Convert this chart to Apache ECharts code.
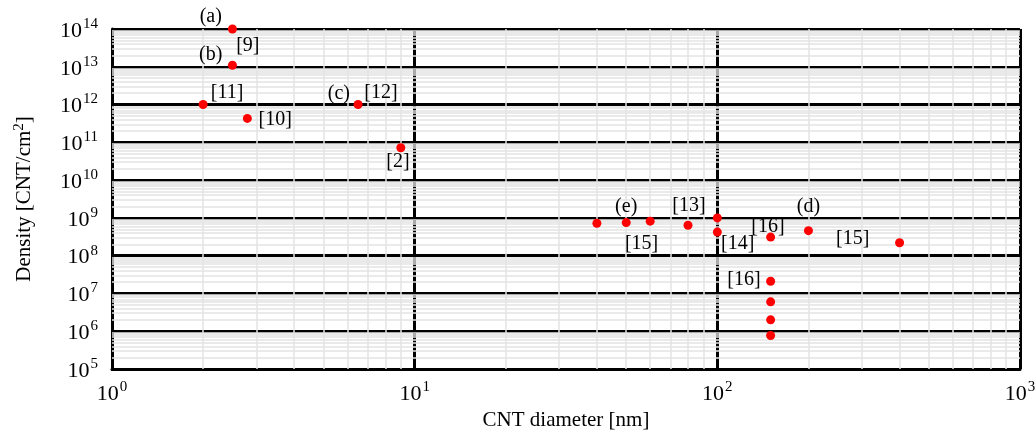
<!DOCTYPE html>
<html>
<head>
<meta charset="utf-8">
<title>CNT density vs diameter</title>
<style>
    html, body { margin: 0; padding: 0; background: #fff; }
    #chart { width: 1035px; height: 432px; }
</style>
</head>
<body>
<div id="chart"></div>
<script src="https://cdn.jsdelivr.net/npm/echarts@6/dist/echarts.min.js"></script>
<script type="text/javascript">
    // measured points: CNT diameter [nm] and density [CNT/cm2]
    var diameter = [2.5, 2.5, 2, 2.8, 6.5, 9, 40, 50, 60, 80, 100, 100, 150, 200, 400, 150, 150, 150, 150];
    var density = [1e14, 1.1e13, 1e12, 4.3e11, 1e12, 7.2e10, 7.2e8, 7.5e8, 8.2e8, 6.4e8, 1e9, 4.2e8, 3.1e8, 4.6e8, 2.2e8, 2.1e7, 6.0e6, 2.0e6, 7.7e5];

    // reference / case labels, anchored in data space
    var noteText = ['(a)', '[9]', '(b)', '[11]', '[10]', '(c)', '[12]', '[2]', '(e)', '[13]', '[15]', '[14]', '[16]', '(d)', '[15]', '[16]'];
    var noteX = [2.12, 2.81, 2.12, 2.40, 3.46, 5.62, 7.74, 8.81, 50, 80.6, 56.2, 116.7, 147, 200, 280, 122.5];
    var noteY = [2.07e14, 3.55e13, 2.05e13, 2.03e12, 3.9e11, 1.9e12, 2.0e12, 3.0e10, 2.0e9, 2.1e9, 2.1e8, 2.1e8, 5.9e8, 2.0e9, 2.8e8, 2.3e7];

    // axis ranges (decades)
    var xDecades = [1, 10, 100, 1000];
    var yDecades = [1e5, 1e6, 1e7, 1e8, 1e9, 1e10, 1e11, 1e12, 1e13, 1e14];

    var font = '"Liberation Serif", "Times New Roman", serif';

    // light minor grid at 2..9 of every decade
    var minorLines = [];
    xDecades.slice(0, -1).forEach(function (d) {
        for (var k = 2; k <= 9; k++) minorLines.push({xAxis: k * d});
    });
    yDecades.slice(0, -1).forEach(function (d) {
        for (var k = 2; k <= 9; k++) minorLines.push({yAxis: k * d});
    });

    var points = diameter.map(function (d, i) { return [d, density[i]]; });
    var notes = noteText.map(function (t, i) { return {name: t, value: [noteX[i], noteY[i]]}; });

    function powLabel(v) {
        return '{b|10}{s|' + Math.round(Math.log10(v)) + '}';
    }
    var powRich = {
        b: {fontSize: 22, fontFamily: font, color: '#000', lineHeight: 25, padding: [4, 0, 0, 0]},
        s: {fontSize: 15, fontFamily: font, color: '#000', verticalAlign: 'top', lineHeight: 15, padding: [0, 0, 0, 1]}
    };

    var myChart = echarts.init(document.getElementById('chart'), null, {renderer: 'canvas'});
    var option = {
        animation: false,
        grid: {left: 112, right: 15, top: 29, bottom: 63, containLabel: false, outerBoundsMode: 'none'},
        xAxis: {
            type: 'log',
            logBase: 10,
            min: 1,
            max: 1000,
            splitNumber: 3,
            name: 'CNT diameter [nm]',
            nameLocation: 'middle',
            nameGap: 40,
            nameTextStyle: {fontSize: 21, fontFamily: font, color: '#000'},
            axisLine: {lineStyle: {color: '#000', width: 3}},
            axisTick: {show: false},
            axisLabel: {margin: 11, formatter: powLabel, rich: powRich},
            splitLine: {show: true, lineStyle: {color: '#000', width: 3}}
        },
        yAxis: {
            type: 'log',
            logBase: 10,
            min: 1e5,
            max: 1e14,
            splitNumber: 9,
            name: '{t|Density [CNT/cm}{s|2}{t|]}',
            nameLocation: 'middle',
            nameRotate: 90,
            nameGap: 76,
            nameTextStyle: {
                rich: {
                    t: {fontSize: 21, fontFamily: font, color: '#000', lineHeight: 24},
                    s: {fontSize: 15, fontFamily: font, color: '#000', verticalAlign: 'top', lineHeight: 15}
                }
            },
            axisLine: {lineStyle: {color: '#000', width: 3}},
            axisTick: {show: false},
            axisLabel: {margin: 14, formatter: powLabel, rich: powRich},
            splitLine: {show: true, lineStyle: {color: '#000', width: 3}}
        },
        series: [
            {
                name: 'notes',
                type: 'scatter',
                z: 1,
                clip: false,
                symbolSize: 0,
                silent: true,
                data: notes,
                label: {
                    show: true,
                    position: 'inside',
                    formatter: '{b}',
                    fontSize: 20,
                    fontFamily: font,
                    color: '#000',
                    opacity: 1,
                    textBorderWidth: 0
                },
                markLine: {
                    z: 1,
                    silent: true,
                    symbol: 'none',
                    label: {show: false},
                    lineStyle: {color: '#e3e3e3', width: 1.5, type: 'solid'},
                    emphasis: {disabled: true},
                    data: minorLines
                }
            },
            {
                name: 'density',
                type: 'scatter',
                z: 3,
                clip: false,
                symbol: 'circle',
                symbolSize: 9,
                itemStyle: {color: '#ff0000', opacity: 1},
                data: points
            }
        ]
    };
    myChart.setOption(option);
</script>
</body>
</html>
